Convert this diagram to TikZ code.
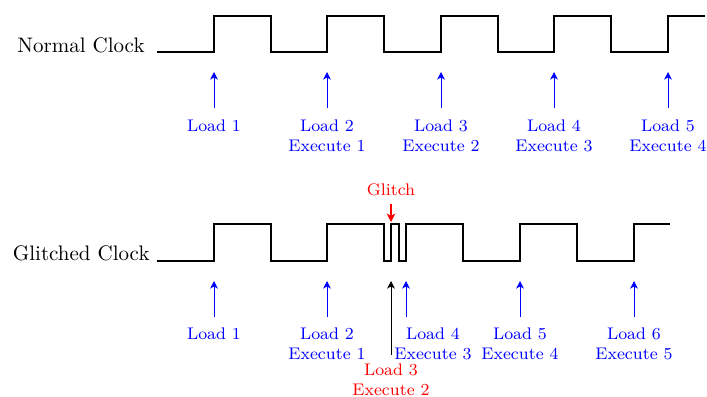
\documentclass[tikz,border=0pt]{standalone}
\usetikzlibrary{arrows.meta}
\begin{document}
\begin{tikzpicture}[x=0.476pt,y=-0.476pt,
  wave/.style={line width=1.1pt,line join=miter},
  lab/.style={font=\footnotesize,align=center,anchor=north,inner sep=0pt,text=blue},
  tip/.style={-{Stealth[length=3.6pt,width=3.6pt,inset=1pt]}},
  marker/.style={blue,tip,line width=0.45pt},
  title/.style={anchor=east,inner sep=0pt}]
\useasboundingbox (0,0) rectangle (707,396);
% Normal clock
\node[title] (nc) at (145,45) {Normal Clock};
\draw[wave] (157,52) -- (214,52) -- (214,16) -- (271,16) -- (271,52) -- (327,52) -- (327,16)
  -- (384,16) -- (384,52) -- (441,52) -- (441,16) -- (498,16) -- (498,52) -- (554,52)
  -- (554,16) -- (611,16) -- (611,52) -- (668,52) -- (668,16) -- (705,16);
\foreach \x/\t [count=\i] in {214/{Load 1},327/{Load 2\\Execute 1},441/{Load 3\\Execute 2},554/{Load 4\\Execute 3},668/{Load 5\\Execute 4}}{
  \node[lab] (n\i) at (\x,119) {\t};
  \coordinate (na\i) at (\x,108);
  \coordinate (nb\i) at (\x,72);
  \draw[marker] (na\i) -- (nb\i);
}
% Glitched clock
\node[title] (gc) at (150,253) {Glitched Clock};
\draw[wave] (157,261) -- (214,261) -- (214,224) -- (271,224) -- (271,261) -- (327,261) -- (327,224)
  -- (384,224) -- (384,261) -- (391,261) -- (391,224) -- (399,224) -- (399,261) -- (406,261)
  -- (406,224) -- (463,224) -- (463,261) -- (520,261) -- (520,224) -- (577,224) -- (577,261)
  -- (634,261) -- (634,224) -- (670,224);
\foreach \x/\lx/\t [count=\i] in {214/214/{Load 1},327/327/{Load 2\\Execute 1},406/433/{Load 4\\Execute 3},520/520/{Load 5\\Execute 4},634/634/{Load 6\\Execute 5}}{
  \node[lab] (g\i) at (\lx,327) {\t};
  \coordinate (ga\i) at (\x,317);
  \coordinate (gb\i) at (\x,281);
  \draw[marker] (ga\i) -- (gb\i);
}
% Load 3 (red)
\node[lab,text=red] (g3r) at (391,363) {Load 3\\Execute 2};
\coordinate (ka) at (391,355);
\coordinate (kb) at (391,281);
\draw[tip,line width=0.45pt] (ka) -- (kb);
% Glitch marker
\node[font=\footnotesize,text=red,inner sep=0pt] (gl) at (391,190) {Glitch};
\coordinate (gla) at (391,204);
\coordinate (glb) at (391,222);
\draw[red,-{Stealth[length=4pt,width=4pt,inset=1pt]},line width=1pt] (gla) -- (glb);
\end{tikzpicture}
\end{document}
